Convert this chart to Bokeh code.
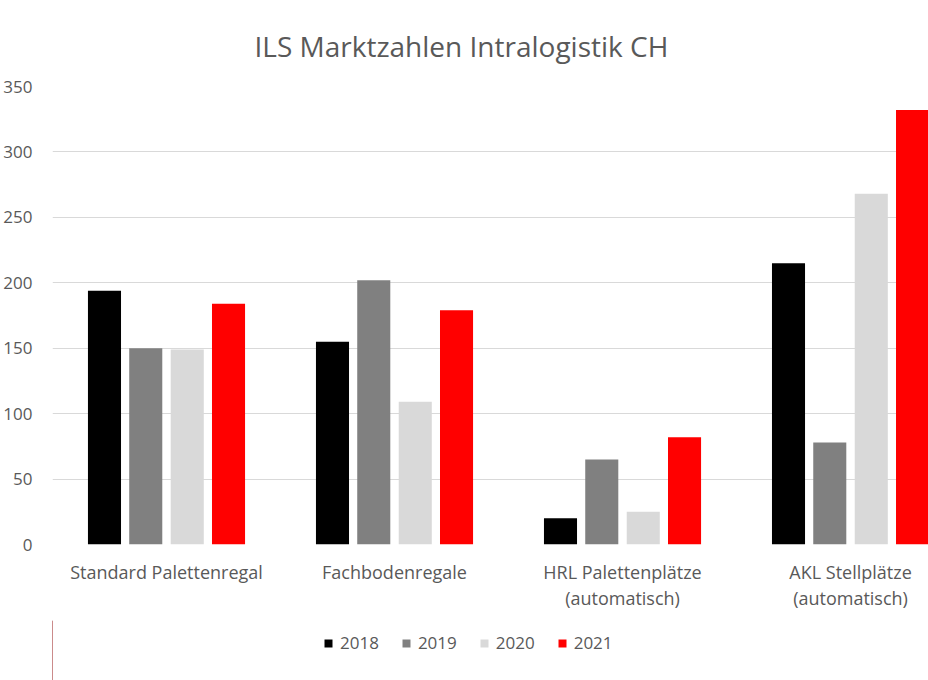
from bokeh.plotting import figure
from bokeh.models import (ColumnDataSource, FixedTicker, Legend, LegendItem, Title)
from bokeh.layouts import column
from bokeh.embed import file_html
from bokeh.resources import INLINE

# ---- data ----
categories = ["Standard Palettenregal", "Fachbodenregale",
              "HRL Palettenplätze\n(automatisch)", "AKL Stellplätze\n(automatisch)"]
years = ["2018", "2019", "2020", "2021"]
v2018 = [194, 155, 20, 215]
v2019 = [150, 202, 65, 78]
v2020 = [149, 109, 25, 268]
v2021 = [184, 179, 82, 332]
series = [v2018, v2019, v2020, v2021]
colors = ["#000000", "#808080", "#d9d9d9", "#ff0000"]
y_ticks = [0, 50, 100, 150, 200, 250, 300, 350]

FONT = "Open Sans"
TXT = "#595959"

p = figure(width=928, height=620, output_backend="svg", toolbar_location=None,
           x_range=(0, 3.842), y_range=(0, 350), title=None,
           min_border_left=52, min_border_right=0, min_border_top=86,
           min_border_bottom=76)
p.outline_line_color = None
p.background_fill_color = "white"
p.border_fill_color = "white"

offsets = [-0.272, -0.091, 0.091, 0.272]
bar_w = 0.145
for j, (yr, vals, col) in enumerate(zip(years, series, colors)):
    xs = [i + 0.5 + offsets[j] for i in range(len(categories))]
    src = ColumnDataSource(dict(x=xs, top=vals))
    p.vbar(x="x", top="top", width=bar_w, bottom=0, source=src,
           fill_color=col, line_color=None)

# axes
p.xaxis.ticker = FixedTicker(ticks=[i + 0.5 for i in range(len(categories))])
p.xaxis.major_label_overrides = {i + 0.5: c for i, c in enumerate(categories)}
p.yaxis.ticker = FixedTicker(ticks=y_ticks)
for ax in (p.xaxis[0], p.yaxis[0]):
    ax.axis_line_color = None
    ax.major_tick_line_color = None
    ax.minor_tick_line_color = None
    ax.major_tick_out = 0
    ax.major_tick_in = 0
    ax.major_label_text_font = FONT
    ax.major_label_text_color = TXT
    ax.major_label_text_font_size = "17px"
p.xaxis.major_label_text_font_size = "18px"
p.yaxis.major_label_standoff = 20
p.xaxis.major_label_standoff = 15
p.xaxis.major_label_text_line_height = 1.1

p.xgrid.grid_line_color = None
p.ygrid.grid_line_color = "#d9d9d9"
p.ygrid.grid_line_width = 1

# title
title = Title(text="ILS Marktzahlen Intralogistik CH", align="left", offset=202,
              standoff=44, text_font=FONT, text_font_size="28px",
              text_font_style="normal", text_color=TXT)
p.add_layout(title, "above")

# legend strip (separate figure below the chart)
lg = figure(width=928, height=60, output_backend="svg", toolbar_location=None,
            x_range=(0, 1), y_range=(0, 1), x_axis_type=None, y_axis_type=None,
            min_border_left=0, min_border_right=0, min_border_top=0,
            min_border_bottom=0, title=None)
lg.outline_line_color = None
lg.xgrid.visible = False
lg.ygrid.visible = False
items = []
for yr, col in zip(years, colors):
    # one off-screen bar per series so the legend swatch has a glyph to draw
    r = lg.vbar(x=[-10], top=[1], width=0.1, fill_color=col, line_color=None)
    items.append(LegendItem(label=yr, renderers=[r]))

legend = Legend(items=items, orientation="horizontal", location=(271, 26),
                glyph_width=10, glyph_height=10, label_standoff=7, spacing=22,
                padding=0, margin=0, border_line_color=None,
                background_fill_alpha=0,
                label_text_font=FONT, label_text_font_size="17px",
                label_text_color=TXT)
lg.add_layout(legend)

layout = column(p, lg, spacing=0)
open("out.html", "w").write(file_html(layout, INLINE))
